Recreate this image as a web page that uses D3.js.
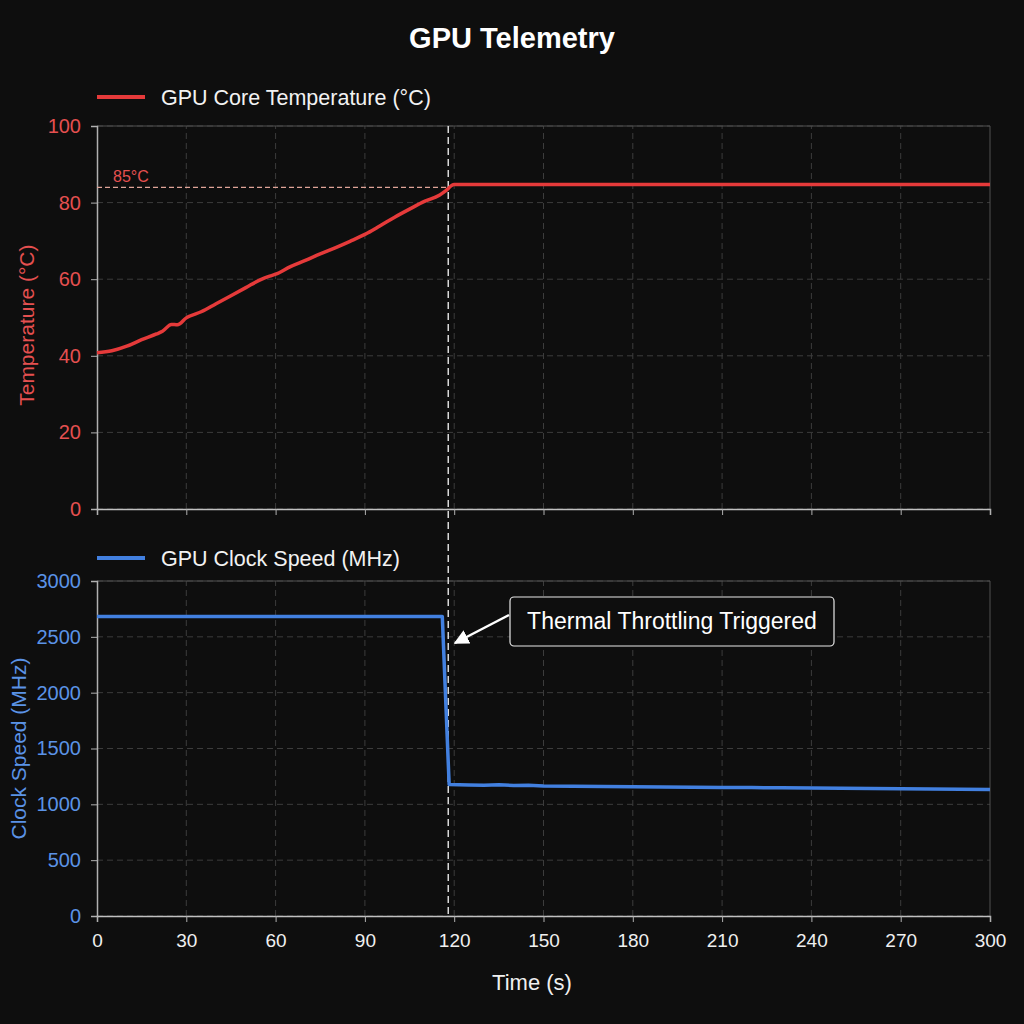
<!DOCTYPE html>
<html>
<head>
<meta charset="utf-8">
<script src="https://cdn.jsdelivr.net/npm/d3@7"></script>
<style>
  body { margin: 0; background: #0e0e0e; }
  svg { display: block; font-family: "Liberation Sans", Arial, sans-serif; }
</style>
</head>
<body>
<div id="chart"></div>
<script>
const width = 1024;
const height = 1024;

// Data
const tempTime = [0, 5, 10, 15, 20, 22, 25, 27, 30, 35, 40, 45, 50, 55, 58, 60, 65, 70, 75, 80, 85, 90, 95, 100, 105, 110, 115, 117, 120, 150, 180, 210, 240, 270, 300];
const tempValues = [40.8, 41.3, 42.5, 44.2, 45.7, 46.4, 48.2, 48.1, 49.9, 51.5, 53.6, 55.7, 57.8, 59.9, 60.8, 61.3, 63.3, 64.9, 66.6, 68.2, 69.9, 71.7, 73.9, 76.2, 78.3, 80.3, 81.9, 83.0, 84.7, 84.7, 84.7, 84.7, 84.7, 84.7, 84.7];

const clockTime = [0, 30, 60, 90, 116, 118.3, 125, 130, 135, 140, 145, 150, 160, 170, 180, 190, 200, 210, 220, 230, 240, 250, 260, 270, 280, 290, 300];
const clockValues = [2683, 2683, 2683, 2683, 2683, 1178, 1174, 1172, 1176, 1168, 1170, 1165, 1163, 1160, 1158, 1156, 1154, 1151, 1150, 1148, 1146, 1144, 1142, 1139, 1138, 1136, 1132];

const timeTicks = [0, 30, 60, 90, 120, 150, 180, 210, 240, 270, 300];
const tempTicks = [0, 20, 40, 60, 80, 100];
const clockTicks = [0, 500, 1000, 1500, 2000, 2500, 3000];
const thresholdTemp = 84;
const throttleTime = 118;

const red = "#e53a3a";
const redText = "#e55050";
const blue = "#4280e0";
const blueText = "#5b93e6";
const gridColor = "#3c3c3c";

const svg = d3.select("#chart")
    .append("svg")
    .attr("width", width)
    .attr("height", height);

svg.append("rect").attr("width", width).attr("height", height).attr("fill", "#0e0e0e");

const x = d3.scaleLinear().domain([0, 300]).range([97, 990]);
const yTemp = d3.scaleLinear().domain([0, 100]).range([509, 126]);
const yClock = d3.scaleLinear().domain([0, 3000]).range([916, 581]);

// draw one panel: grid, frame, ticks
function drawPanel(y, ticks, labelColor, showXLabels) {
    const g = svg.append("g");
    const [y0, y1] = y.range();

    g.selectAll(".hgrid").data(ticks).enter().append("line")
        .attr("x1", x(0)).attr("x2", x(300))
        .attr("y1", d => y(d)).attr("y2", d => y(d))
        .attr("stroke", gridColor).attr("stroke-dasharray", "6,4");

    g.selectAll(".vgrid").data(timeTicks.slice(1, -1)).enter().append("line")
        .attr("x1", d => x(d)).attr("x2", d => x(d))
        .attr("y1", y0).attr("y2", y1)
        .attr("stroke", gridColor).attr("stroke-dasharray", "6,4");

    // top + right frame
    g.append("path")
        .attr("d", `M${x(0)},${y1}H${x(300)}V${y0}`)
        .attr("fill", "none").attr("stroke", "#505050");

    const yAxis = g.append("g")
        .attr("transform", `translate(${x(0)},0)`)
        .call(d3.axisLeft(y).tickValues(ticks).tickFormat(d3.format("d")).tickSize(6).tickPadding(10));
    yAxis.select(".domain").attr("stroke", "#b0b0b0").attr("stroke-width", 1.5);
    yAxis.selectAll(".tick line").attr("stroke", "#b0b0b0");
    yAxis.selectAll("text").attr("fill", labelColor).attr("font-size", 20)
        .attr("font-family", "Liberation Sans, Arial, sans-serif");

    const xAxis = g.append("g")
        .attr("transform", `translate(0,${y0})`)
        .call(d3.axisBottom(x).tickValues(timeTicks).tickSize(6).tickPadding(12));
    xAxis.select(".domain").attr("stroke", "#c0c0c0").attr("stroke-width", 1.5);
    xAxis.selectAll(".tick line").attr("stroke", "#b0b0b0");
    xAxis.selectAll("text")
        .attr("fill", "#f0f0f0").attr("font-size", 19)
        .attr("font-family", "Liberation Sans, Arial, sans-serif")
        .style("display", showXLabels ? null : "none");
}

drawPanel(yTemp, tempTicks, redText, false);
drawPanel(yClock, clockTicks, blueText, true);

// threshold line
svg.append("line")
    .attr("x1", x(0)).attr("x2", x(throttleTime))
    .attr("y1", yTemp(thresholdTemp)).attr("y2", yTemp(thresholdTemp))
    .attr("stroke", "#e0a498").attr("stroke-width", 1.2).attr("stroke-dasharray", "5,3");

svg.append("text")
    .attr("x", 113).attr("y", yTemp(thresholdTemp) - 5)
    .attr("fill", redText).attr("font-size", 16)
    .text("85°C");

// vertical throttle marker across both panels
svg.append("line")
    .attr("x1", x(throttleTime)).attr("x2", x(throttleTime))
    .attr("y1", yTemp(100)).attr("y2", yClock(0))
    .attr("stroke", "#d8d8d8").attr("stroke-width", 1.5).attr("stroke-dasharray", "7,4");

// series
const tempLine = d3.line().x(d => x(d[0])).y(d => yTemp(d[1])).curve(d3.curveMonotoneX);
svg.append("path")
    .datum(d3.zip(tempTime, tempValues))
    .attr("d", tempLine)
    .attr("fill", "none").attr("stroke", red).attr("stroke-width", 3.5)
    .attr("stroke-linejoin", "round");

const clockLine = d3.line().x(d => x(d[0])).y(d => yClock(d[1]));
svg.append("path")
    .datum(d3.zip(clockTime, clockValues))
    .attr("d", clockLine)
    .attr("fill", "none").attr("stroke", blue).attr("stroke-width", 3.5)
    .attr("stroke-linejoin", "round");

// legends
function legend(yPos, color, label) {
    svg.append("line")
        .attr("x1", 97).attr("x2", 145).attr("y1", yPos).attr("y2", yPos)
        .attr("stroke", color).attr("stroke-width", 4);
    svg.append("text")
        .attr("x", 161).attr("y", yPos).attr("dy", "0.35em")
        .attr("fill", "#f2f2f2").attr("font-size", 21.5)
        .text(label);
}
legend(97, red, "GPU Core Temperature (°C)");
legend(558, blue, "GPU Clock Speed (MHz)");

// title
svg.append("text")
    .attr("x", 512).attr("y", 48)
    .attr("text-anchor", "middle")
    .attr("fill", "#ffffff").attr("font-size", 29).attr("font-weight", "bold")
    .text("GPU Telemetry");

// axis titles
svg.append("text")
    .attr("transform", `translate(34,${yTemp(48)}) rotate(-90)`)
    .attr("text-anchor", "middle")
    .attr("fill", redText).attr("font-size", 21)
    .text("Temperature (°C)");

svg.append("text")
    .attr("transform", `translate(26,${yClock(1500)}) rotate(-90)`)
    .attr("text-anchor", "middle")
    .attr("fill", blueText).attr("font-size", 21)
    .text("Clock Speed (MHz)");

svg.append("text")
    .attr("x", 532).attr("y", 990)
    .attr("text-anchor", "middle")
    .attr("fill", "#f0f0f0").attr("font-size", 22)
    .text("Time (s)");

// annotation
svg.append("defs").append("marker")
    .attr("id", "arrow")
    .attr("viewBox", "0 0 10 10")
    .attr("refX", 9).attr("refY", 5)
    .attr("markerWidth", 6).attr("markerHeight", 6)
    .attr("orient", "auto")
    .append("path").attr("d", "M0,0L10,5L0,10z").attr("fill", "#ffffff");

svg.append("line")
    .attr("x1", 509).attr("y1", 615)
    .attr("x2", 455).attr("y2", 643)
    .attr("stroke", "#ffffff").attr("stroke-width", 2.5)
    .attr("marker-end", "url(#arrow)");

svg.append("rect")
    .attr("x", 510).attr("y", 597).attr("width", 324).attr("height", 49)
    .attr("rx", 4)
    .attr("fill", "#0e0e0e").attr("stroke", "#e8e8e8").attr("stroke-width", 1.2);

svg.append("text")
    .attr("x", 672).attr("y", 621).attr("dy", "0.35em")
    .attr("text-anchor", "middle")
    .attr("fill", "#ffffff").attr("font-size", 23)
    .text("Thermal Throttling Triggered");
</script>
</body>
</html>
